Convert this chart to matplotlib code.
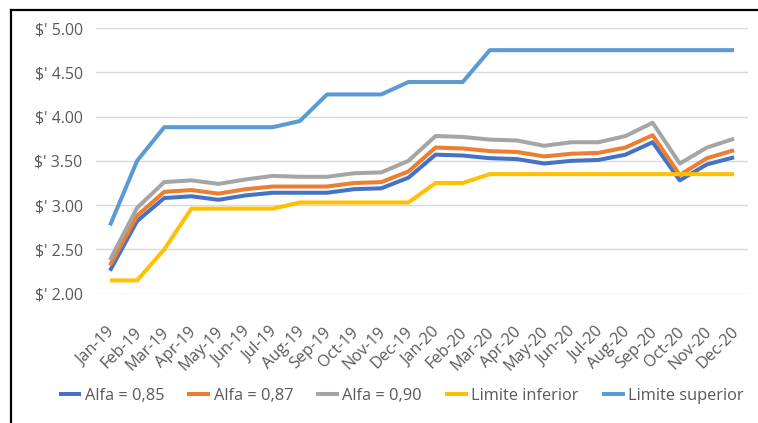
import matplotlib
matplotlib.use("Agg")
import matplotlib.pyplot as plt
from matplotlib.lines import Line2D
from matplotlib.ticker import FuncFormatter
from matplotlib.transforms import ScaledTranslation

months = ["Jan-19", "Feb-19", "Mar-19", "Apr-19", "May-19", "Jun-19", "Jul-19", "Aug-19",
          "Sep-19", "Oct-19", "Nov-19", "Dec-19", "Jan-20", "Feb-20", "Mar-20", "Apr-20",
          "May-20", "Jun-20", "Jul-20", "Aug-20", "Sep-20", "Oct-20", "Nov-20", "Dec-20"]

alfa_085 = [2.26, 2.82, 3.08, 3.10, 3.06, 3.11, 3.14, 3.14, 3.14, 3.18, 3.19, 3.31,
            3.57, 3.56, 3.53, 3.52, 3.47, 3.50, 3.51, 3.57, 3.71, 3.28, 3.46, 3.54]
alfa_087 = [2.32, 2.88, 3.15, 3.17, 3.13, 3.18, 3.21, 3.21, 3.21, 3.25, 3.26, 3.38,
            3.65, 3.64, 3.61, 3.60, 3.55, 3.58, 3.59, 3.65, 3.79, 3.34, 3.53, 3.62]
alfa_090 = [2.38, 2.97, 3.26, 3.28, 3.24, 3.29, 3.33, 3.32, 3.32, 3.36, 3.37, 3.50,
            3.78, 3.77, 3.74, 3.73, 3.67, 3.71, 3.71, 3.78, 3.93, 3.47, 3.65, 3.75]
limite_inferior = [2.15, 2.15, 2.50, 2.96, 2.96, 2.96, 2.96, 3.03, 3.03, 3.03, 3.03, 3.03,
                   3.25, 3.25, 3.35, 3.35, 3.35, 3.35, 3.35, 3.35, 3.35, 3.35, 3.35, 3.35]
limite_superior = [2.77, 3.50, 3.88, 3.88, 3.88, 3.88, 3.88, 3.95, 4.25, 4.25, 4.25, 4.39,
                   4.39, 4.39, 4.75, 4.75, 4.75, 4.75, 4.75, 4.75, 4.75, 4.75, 4.75, 4.75]

series = [
    ("Alfa = 0,85", alfa_085, "#4472C4"),
    ("Alfa = 0,87", alfa_087, "#ED7D31"),
    ("Alfa = 0,90", alfa_090, "#A5A5A5"),
    ("Limite inferior", limite_inferior, "#FFC000"),
    ("Limite superior", limite_superior, "#5B9BD5"),
]

plt.rcParams["font.family"] = ["Open Sans", "DejaVu Sans"]
text_color = "#595959"

W, H = 758, 423
fig = plt.figure(figsize=(W / 100, H / 100), dpi=100)
fig.patch.set_facecolor("white")

left, right, top, bottom = 96.4, 747.6, 28.0, 293.7
ax = fig.add_axes([left / W, 1 - bottom / H, (right - left) / W, (bottom - top) / H])

x = list(range(len(months)))
handles = []
for label, vals, color in series:
    ln, = ax.plot(x, vals, color=color, lw=2.9, solid_joinstyle="round",
                  solid_capstyle="butt", label=label)
    handles.append(ln)

ax.set_xlim(-0.5, len(months) - 0.5)
ax.set_ylim(2.0, 5.0)
ax.set_yticks([2.0, 2.5, 3.0, 3.5, 4.0, 4.5, 5.0])
ax.yaxis.set_major_formatter(FuncFormatter(lambda v, p: f"$' {v:.2f}"))
ax.set_xticks(x)
ax.set_xticklabels(months, rotation=45, ha="right", va="center", rotation_mode="anchor")

ax.grid(axis="y", color="#D9D9D9", lw=1.0)
ax.set_axisbelow(True)
for sp in ax.spines.values():
    sp.set_visible(False)
ax.tick_params(axis="both", length=0, colors=text_color)
ax.tick_params(axis="y", pad=10, labelsize=11.4)
ax.tick_params(axis="x", pad=26, labelsize=11.6)

# nudge the rotated month labels to the right so their ends sit over the points
shift = ScaledTranslation(2.0 / 100, 0, fig.dpi_scale_trans)
for lbl in ax.get_xticklabels():
    lbl.set_transform(lbl.get_transform() + shift)

fig.legend(handles=handles, loc="center", bbox_to_anchor=(401 / W, 1 - 396 / H),
           ncol=5, frameon=False, fontsize=11.8, labelcolor=text_color,
           handlelength=1.4, handletextpad=0.2, columnspacing=1.4)

# outer frame of the chart area
fig.add_artist(Line2D([11 / W, 11 / W], [0, 1 - 10 / H], color="black", lw=1.6,
                      transform=fig.transFigure))
fig.add_artist(Line2D([11 / W, 1], [1 - 10 / H, 1 - 10 / H], color="black", lw=1.6,
                      transform=fig.transFigure))

fig.savefig("out.png", dpi=100)
